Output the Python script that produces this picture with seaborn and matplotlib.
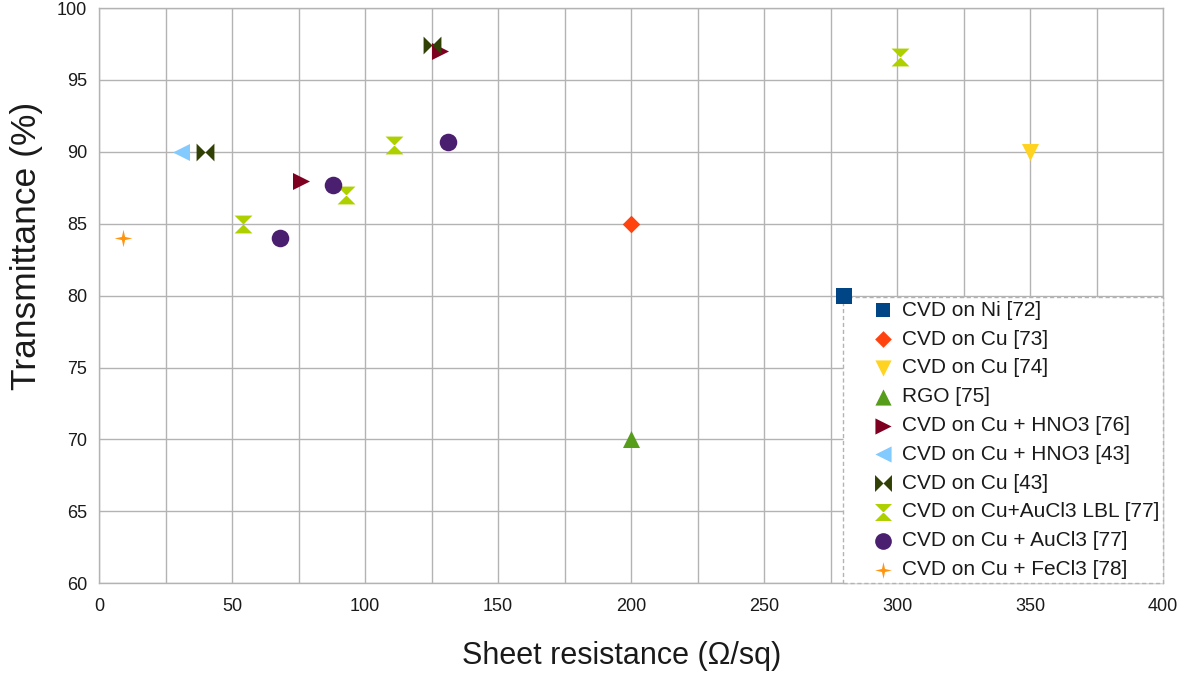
import matplotlib
matplotlib.use("Agg")
import matplotlib.pyplot as plt
from matplotlib.path import Path
from matplotlib.legend_handler import HandlerPathCollection
from matplotlib.collections import PathCollection
import seaborn as sns
import pandas as pd

# ---- data ----
series = [
    "CVD on Ni [72]", "CVD on Cu [73]", "CVD on Cu [74]", "RGO [75]",
    "CVD on Cu + HNO3 [76]", "CVD on Cu + HNO3 [43]", "CVD on Cu [43]",
    "CVD on Cu+AuCl3 LBL [77]", "CVD on Cu + AuCl3 [77]", "CVD on Cu + FeCl3 [78]",
]
ni72_x, ni72_y = [280], [80]
cu73_x, cu73_y = [200], [85]
cu74_x, cu74_y = [350], [90]
rgo75_x, rgo75_y = [200], [70]
hno3_76_x, hno3_76_y = [76, 128], [88, 97]
hno3_43_x, hno3_43_y = [31], [90]
cu43_x, cu43_y = [40, 125], [90, 97.4]
lbl77_x, lbl77_y = [54, 93, 111, 301], [85, 87, 90.5, 96.6]
aucl3_77_x, aucl3_77_y = [68, 88, 131], [84, 87.7, 90.7]
fecl3_78_x, fecl3_78_y = [9], [84]

xs = [ni72_x, cu73_x, cu74_x, rgo75_x, hno3_76_x, hno3_43_x, cu43_x, lbl77_x, aucl3_77_x, fecl3_78_x]
ys = [ni72_y, cu73_y, cu74_y, rgo75_y, hno3_76_y, hno3_43_y, cu43_y, lbl77_y, aucl3_77_y, fecl3_78_y]

colors = ["#004586", "#ff420e", "#ffd320", "#579d1c", "#7e0021",
          "#83caff", "#314004", "#aecf00", "#4b1f6f", "#ff950e"]

# custom marker shapes
bowtie = Path([(-1, -1), (-1, 1), (0, 0), (-1, -1), (1, 1), (1, -1), (0, 0), (1, 1)],
              [Path.MOVETO, Path.LINETO, Path.LINETO, Path.CLOSEPOLY,
               Path.MOVETO, Path.LINETO, Path.LINETO, Path.CLOSEPOLY])
hourglass = Path([(-1, 1), (1, 1), (0, 0), (-1, 1), (-1, -1), (1, -1), (0, 0), (-1, -1)],
                 [Path.MOVETO, Path.LINETO, Path.LINETO, Path.CLOSEPOLY,
                  Path.MOVETO, Path.LINETO, Path.LINETO, Path.CLOSEPOLY])
w = 0.18
star4 = Path([(0, 1), (w, w), (1, 0), (w, -w), (0, -1), (-w, -w), (-1, 0), (-w, w), (0, 1)],
             [Path.MOVETO] + [Path.LINETO] * 7 + [Path.CLOSEPOLY])
markers = ["s", "D", "v", "^", ">", "<", bowtie, hourglass, "o", star4]
sizes = [120, 80, 150, 150, 150, 150, 165, 165, 160, 160]


class RightHandler(HandlerPathCollection):
    """Place the single legend marker towards the right of the handle box."""
    def get_xdata(self, legend, xdescent, ydescent, width, height, fontsize):
        xd = [-xdescent + 0.72 * width]
        return xd, xd


rows = []
for name, xx, yy in zip(series, xs, ys):
    for a, b in zip(xx, yy):
        rows.append({"series": name, "R": a, "T": b})
df = pd.DataFrame(rows)

sns.set_theme(style="whitegrid")
plt.rcParams["font.family"] = ["Liberation Sans", "DejaVu Sans"]

fig = plt.figure(figsize=(11.93, 6.75), dpi=100)
ax = fig.add_axes([0.083, 0.136, 0.892, 0.852])

for name, col, mk, sz in zip(series, colors, markers, sizes):
    sns.scatterplot(data=df[df["series"] == name], x="R", y="T", ax=ax,
                    color=col, marker=mk, s=sz, linewidth=0, label=name, zorder=3)

ax.set_xlim(0, 400)
ax.set_ylim(60, 100)
ax.set_xticks(range(0, 401, 50))
ax.set_xticks(range(25, 400, 50), minor=True)
ax.set_yticks(range(60, 101, 5))
ax.grid(True, which="both", color="#b3b3b3", linewidth=1)
ax.set_axisbelow(True)
for sp in ax.spines.values():
    sp.set_color("#b3b3b3")
    sp.set_linewidth(1)
ax.tick_params(axis="both", which="major", length=5, color="#b3b3b3",
               labelsize=13, labelcolor="#1a1a1a", direction="out", width=1)
ax.tick_params(axis="both", which="minor", length=0)
ax.tick_params(axis="x", pad=6)
ax.set_xlabel("Sheet resistance (Ω/sq)", fontsize=22, color="#1a1a1a")
ax.set_ylabel("Transmittance (%)", fontsize=25.5, color="#1a1a1a")
ax.xaxis.set_label_coords(0.4915, -0.101)
ax.yaxis.set_label_coords(-0.053, 0.586)

leg = ax.legend(loc="lower right", bbox_to_anchor=(1.0, 0.0), fontsize=15,
                frameon=True, fancybox=False, borderaxespad=0, labelspacing=0.47,
                handletextpad=0.2, handlelength=2.4, borderpad=0.2, markerscale=0.95,
                handler_map={PathCollection: RightHandler()})
leg.set_zorder(2.5)
fr = leg.get_frame()
fr.set_edgecolor("#b3b3b3")
fr.set_linestyle((0, (3, 2)))
fr.set_linewidth(1)
fr.set_facecolor("white")
fr.set_alpha(1)
for t in leg.get_texts():
    t.set_color("#1a1a1a")

fig.savefig("out.png", dpi=100)
